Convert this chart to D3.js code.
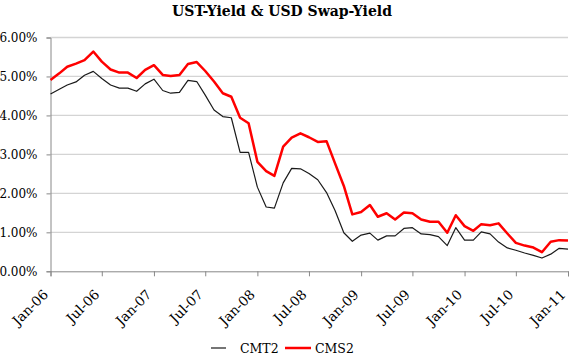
<!DOCTYPE html>
<html><head><meta charset="utf-8">
<script src="https://cdn.jsdelivr.net/npm/d3@7"></script>
<style>body{margin:0;background:#fff}svg{display:block}text{font-family:"DejaVu Serif","Liberation Serif",serif}</style>
</head><body><svg id="c" width="570" height="363"></svg>
<script>
const months = d3.range(61).map(i => new Date(2006, i, 1));
const cmt2 = [4.55,4.67,4.78,4.86,5.03,5.13,4.95,4.78,4.70,4.70,4.62,4.81,
  4.93,4.64,4.57,4.59,4.90,4.87,4.52,4.14,3.97,3.94,3.05,3.05,
  2.16,1.65,1.62,2.27,2.64,2.63,2.51,2.35,2.02,1.56,0.99,0.77,
  0.93,0.98,0.80,0.91,0.91,1.10,1.12,0.96,0.94,0.89,0.66,1.12,
  0.80,0.80,1.01,0.96,0.75,0.60,0.54,0.47,0.41,0.34,0.44,0.59,0.57];
const cms2 = [4.91,5.08,5.25,5.33,5.42,5.64,5.38,5.18,5.10,5.10,4.96,5.17,
  5.29,5.04,5.01,5.04,5.32,5.37,5.14,4.87,4.57,4.48,3.94,3.80,
  2.81,2.57,2.45,3.20,3.43,3.54,3.44,3.32,3.34,2.77,2.19,1.46,
  1.52,1.70,1.40,1.49,1.33,1.51,1.49,1.33,1.27,1.27,0.99,1.44,
  1.16,1.04,1.21,1.18,1.23,0.97,0.73,0.66,0.61,0.49,0.76,0.80,0.79];
const yTicks = [0,1,2,3,4,5,6];
const xTickLabels = ["Jan-06","Jul-06","Jan-07","Jul-07","Jan-08","Jul-08","Jan-09","Jul-09","Jan-10","Jul-10","Jan-11"];
const xTickDates = d3.range(11).map(i => new Date(2006, i*6, 1));
const seriesNames = ["CMT2","CMS2"];
const seriesColors = ["#1a1a1a","#ff0000"];

const svg = d3.select("#c");
const L = 50.5, R = 568, T = 37.5, B = 271.3;
const x = d3.scaleTime().domain([months[0], months[60]]).range([L, R]);
const y = d3.scaleLinear().domain([0, 6]).range([B, T]);

svg.append("text").attr("x", 282).attr("y", 16).attr("text-anchor","middle")
  .attr("font-size", 14).attr("font-weight","bold").attr("fill","#000")
  .text("UST-Yield & USD Swap-Yield");

svg.append("g").selectAll("line").data(yTicks.filter(d=>d>0)).join("line")
  .attr("x1", L).attr("x2", R).attr("y1", d=>y(d)).attr("y2", d=>y(d))
  .attr("stroke","#d4d4d4").attr("stroke-width",1.3);

const ya = svg.append("g").attr("transform",`translate(${L},0)`)
  .call(d3.axisLeft(y).tickValues(yTicks).tickSize(4).tickPadding(9).tickFormat(d=>d3.format(".2f")(d)+"%"));
ya.select(".domain").attr("stroke","#888");
ya.selectAll(".tick line").attr("stroke","#888");
ya.selectAll("text").attr("font-size",12).attr("fill","#000").attr("font-family","DejaVu Serif");

const xa = svg.append("g").attr("transform",`translate(0,${B})`)
  .call(d3.axisBottom(x).tickValues(xTickDates).tickSize(5).tickFormat((d,i)=>xTickLabels[i]));
xa.select(".domain").attr("stroke","#888");
xa.selectAll(".tick line").attr("stroke","#888");
xa.selectAll("text").attr("font-size",13.5).attr("fill","#000").attr("font-family","DejaVu Serif")
  .attr("text-anchor","end").attr("dy",null).attr("y",null)
  .attr("transform","translate(-2,24) rotate(-45)");

const line = d3.line().x((d,i)=>x(months[i])).y(d=>y(d));
svg.append("path").datum(cmt2).attr("d", line).attr("fill","none")
  .attr("stroke", seriesColors[0]).attr("stroke-width",1.2).attr("stroke-linejoin","round");
svg.append("path").datum(cms2).attr("d", line).attr("fill","none")
  .attr("stroke", seriesColors[1]).attr("stroke-width",2.5).attr("stroke-linejoin","round");

const lg = svg.append("g");
const lx = [211, 285];
seriesNames.forEach((n,i)=>{
  lg.append("line").attr("x1",lx[i]).attr("x2",lx[i]+(i?26:15)).attr("y1",348).attr("y2",348)
    .attr("stroke",seriesColors[i]).attr("stroke-width", i?2.5:1.2);
  lg.append("text").attr("x",lx[i]+(i?30:29)).attr("y",352.5).attr("font-size",12.5).attr("fill","#000").text(n);
});
</script></body></html>
